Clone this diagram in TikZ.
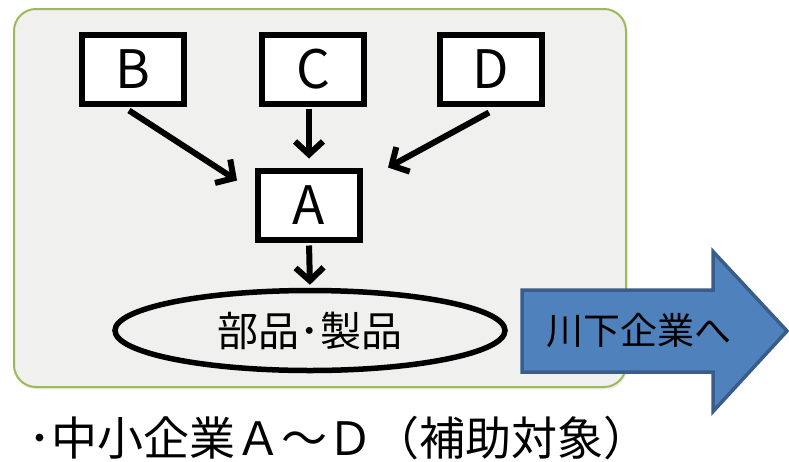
\documentclass[tikz,border=0pt]{standalone}
\usepackage{fontspec}
\setmainfont{Noto Sans CJK JP}
\usetikzlibrary{positioning}
\usetikzlibrary{shapes.geometric}
\usetikzlibrary{arrows.meta}
\usetikzlibrary{shadows}
\definecolor{panelgray}{HTML}{F0F0EF}
\definecolor{panelgreen}{HTML}{9BBB59}
\definecolor{arrowblue}{HTML}{4F81BD}
\definecolor{arrowedge}{HTML}{385D8A}
\tikzset{
  panel/.style={fill=panelgray, draw=panelgreen, line width=2pt, rounded corners=22pt,
    drop shadow={opacity=0.12, shadow xshift=1.5pt, shadow yshift=-2.5pt}},
  firm/.style={draw, fill=white, line width=6pt, minimum width=102pt, minimum height=69pt,
    inner sep=0pt, font=\fontsize{53}{53}\selectfont},
  product/.style={draw, ellipse, line width=5.5pt, minimum width=390pt, minimum height=80pt,
    inner sep=0pt, font=\fontsize{41}{41}\selectfont},
  flow/.style={->, line width=6pt},
  bigarrow/.style={fill=arrowblue, draw=arrowedge, line width=3.5pt},
}

\begin{document}
\begin{tikzpicture}[x=1pt, y=-1pt, >={Straight Barb[length=13pt,width=28pt]}]
            \useasboundingbox (0,0) rectangle (789,461);
            \fill[white] (0,0) rectangle (789,461);
            \draw[panel] (14,9) rectangle (626,387);

            \node[firm] (C) at (313,69)              {C};
            \node[firm] (B) [left=72pt of C]         {B};
            \node[firm] (D) [right=70pt of C]        {D};
            \node[firm] (A) [below=61pt of C, xshift=-4pt] {A};
            \node[product] (P) at (310,330.5)        {部品･製品};

            \draw[flow] ([xshift=-4pt,yshift=-4pt]B.south) -- ([xshift=-18pt,yshift=-13pt]A.north west);
            \draw[flow, shorten <=2pt, shorten >=9pt] (A.north |- C.south) -- (A.north);
            \draw[flow] ([xshift=-2pt,yshift=-6pt]D.south) -- ([xshift=25pt]A.north east);
            \draw[flow, shorten <=3pt, shorten >=3pt] (A.south) -- (P.north);

            % arrow towards the downstream firms
            \draw[bigarrow] (522,290) -- (713,290) -- (713,251.5) -- (787,331) -- (713,411.5) -- (713,372) -- (522,372) -- cycle;
            \node[font=\fontsize{37}{37}\selectfont] (down) at (639,331) {川下企業へ};

            \node[anchor=base west, inner sep=0pt, font=\fontsize{46}{46}\selectfont] (note) at (28,455) {･中小企業Ａ～Ｄ（補助対象）};
        \end{tikzpicture}
\end{document}
